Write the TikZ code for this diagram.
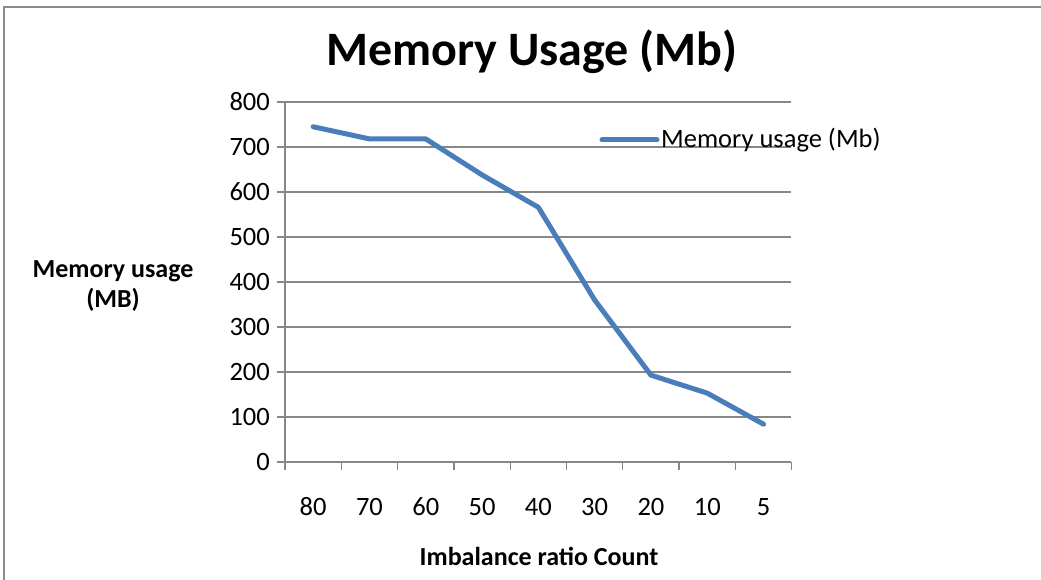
\documentclass[tikz,border=0pt]{standalone}
\usepackage{fontspec}
\setmainfont{Carlito}
\usetikzlibrary{positioning}
\definecolor{seriesblue}{HTML}{4A7EBB}
\definecolor{gridgray}{HTML}{878787}
\definecolor{framegray}{HTML}{8C8C8C}

\begin{document}
\begin{tikzpicture}[
  x=1pt, y=-1pt,
  every node/.style={inner sep=0pt},
  tick label/.style={font=\fontsize{26.5}{26.5}\selectfont},
  chart title/.style={font=\bfseries\fontsize{48}{48}\selectfont},
  axis title/.style={font=\bfseries\fontsize{26}{30}\selectfont, align=center},
  gridline/.style={gridgray, line width=1.3pt},
  series/.style={seriesblue, line width=5pt, line join=round, line cap=round}
]
\useasboundingbox (0,0) rectangle (1041,580);
\draw[framegray, line width=1.3pt] (4,580) -- (4,7) -- (1041,7);

\node[chart title] (title) at (532,52) {Memory Usage (Mb)};

% gridlines and value labels
\foreach \v in {0,100,...,800} {
  \draw[gridline] (277,{462-0.45*\v}) -- (791,{462-0.45*\v});
  \node[tick label, anchor=east] (y\v) at (270,{462-0.45*\v}) {\v};
}
\draw[gridline] (285,102) -- (285,462);
\foreach \i in {0,...,9}
  \draw[gridline] ({285+56.3*\i},462) -- ++(0,8);

% categories
\foreach \c [count=\i] in {80,70,60,50,40,30,20,10,5}
  \node[tick label] (x\i) at ({285+56.3*(\i-0.5)},507) {\c};

% series
\foreach \v [count=\i] in {745,718,718,638,566,360,193,153,84}
  \coordinate (p\i) at ({285+56.3*(\i-0.5)},{462-0.45*\v});
\draw[series] (p1) -- (p2) -- (p3) -- (p4) -- (p5) -- (p6) -- (p7) -- (p8) -- (p9);

% legend
\coordinate (legA) at (602,140);
\coordinate (legB) at (657,140);
\draw[series] (legA) -- (legB);
\node[tick label, right=4pt of legB] (legtext) {Memory usage (Mb)};

\node[axis title] (ytitle) at (113,286) {Memory usage\\(MB)};
\node[axis title] (xtitle) at (539,556) {Imbalance ratio Count};
\end{tikzpicture}
\end{document}
